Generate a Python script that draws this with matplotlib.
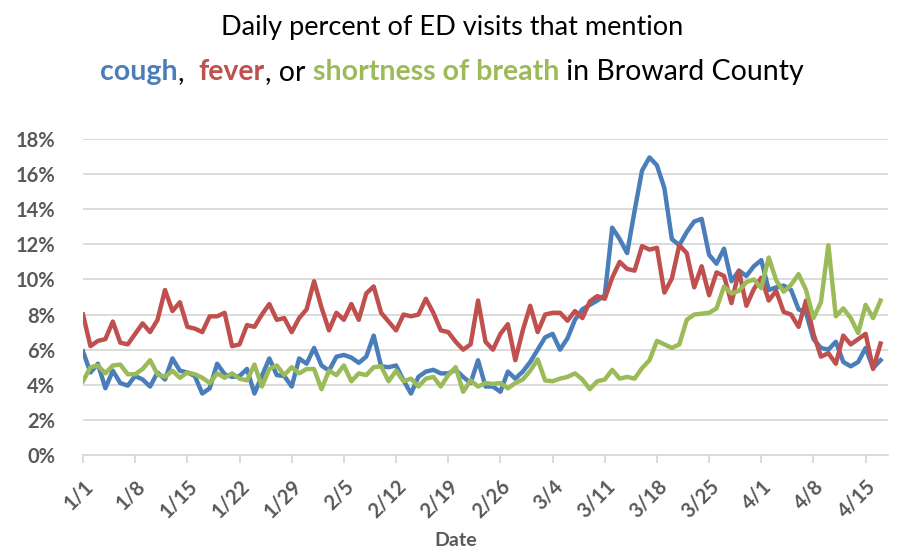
import numpy as np
import matplotlib
matplotlib.use("Agg")
import matplotlib.pyplot as plt
from matplotlib.ticker import FuncFormatter
from matplotlib.offsetbox import TextArea, HPacker, AnnotationBbox

# daily % of ED visits, 1/1 .. 4/17
cough = [5.9, 4.7, 5.2, 3.8, 4.8, 4.1, 3.95, 4.5, 4.3, 3.9, 4.7, 4.3, 5.5, 4.8, 4.7, 4.5,
         3.5, 3.8, 5.2, 4.6, 4.45, 4.5, 4.9, 3.5, 4.5, 5.5, 4.55, 4.5, 3.9, 5.5, 5.2, 6.1,
         5.1, 4.8, 5.6, 5.7, 5.55, 5.25, 5.6, 6.8, 5.05, 5.0, 5.1, 4.25, 3.5, 4.45, 4.75,
         4.85, 4.65, 4.65, 4.85, 4.45, 4.1, 5.4, 3.9, 3.9, 3.6, 4.75, 4.35, 4.75, 5.3, 6.0,
         6.7, 6.9, 6.0, 6.65, 7.7, 8.3, 8.55, 8.8, 9.1, 12.95, 12.3, 11.5, 13.9, 16.2, 16.95,
         16.5, 15.2, 12.3, 11.95, 12.7, 13.3, 13.45, 11.4, 10.9, 11.75, 9.9, 10.5, 10.2,
         10.75, 11.1, 9.4, 9.55, 9.65, 9.4, 8.3, 8.1, 6.6, 6.1, 6.0, 6.45, 5.3, 5.05, 5.3,
         6.1, 4.95, 5.4]
fever = [8.0, 6.2, 6.5, 6.6, 7.6, 6.4, 6.3, 6.9, 7.5, 7.0, 7.7, 9.4, 8.2, 8.7, 7.3, 7.2,
         7.0, 7.9, 7.9, 8.1, 6.2, 6.3, 7.4, 7.3, 8.0, 8.6, 7.7, 7.8, 7.0, 7.8, 8.3, 9.9,
         8.4, 7.1, 8.1, 7.7, 8.6, 7.7, 9.2, 9.6, 8.1, 7.6, 7.1, 8.0, 7.9, 8.0, 8.9, 8.1,
         7.1, 7.0, 6.45, 6.0, 6.3, 8.8, 6.45, 6.0, 6.9, 7.45, 5.4, 7.1, 8.5, 7.0, 8.0, 8.1,
         8.1, 7.65, 8.2, 7.8, 8.75, 9.05, 8.9, 10.1, 11.0, 10.6, 10.5, 11.9, 11.7, 11.8,
         9.25, 10.05, 11.95, 11.5, 9.55, 10.75, 9.1, 10.4, 10.2, 8.65, 10.5, 8.5, 9.45,
         10.1, 8.8, 9.35, 8.15, 8.0, 7.3, 8.8, 6.9, 5.6, 5.8, 5.2, 6.8, 6.3, 6.6, 6.9, 4.9,
         6.35]
breath = [4.2, 5.0, 5.1, 4.65, 5.1, 5.15, 4.6, 4.6, 4.9, 5.4, 4.6, 4.45, 4.8, 4.4, 4.7,
          4.6, 4.4, 4.1, 4.65, 4.4, 4.65, 4.35, 4.25, 5.15, 3.9, 4.9, 5.1, 4.55, 5.0, 4.65,
          4.9, 4.9, 3.75, 4.8, 4.55, 5.1, 4.2, 4.65, 4.55, 5.0, 5.05, 4.2, 4.8, 4.2, 4.35,
          3.9, 4.35, 4.45, 3.9, 4.55, 5.0, 3.6, 4.25, 3.9, 4.1, 4.05, 4.1, 3.8, 4.1, 4.3,
          4.8, 5.45, 4.25, 4.2, 4.35, 4.45, 4.65, 4.3, 3.75, 4.2, 4.3, 4.85, 4.35, 4.45,
          4.35, 4.95, 5.4, 6.5, 6.3, 6.1, 6.3, 7.7, 8.0, 8.05, 8.1, 8.35, 9.6, 9.2, 9.35,
          9.85, 10.0, 9.5, 11.25, 9.95, 9.3, 9.7, 10.3, 9.4, 7.8, 8.7, 11.95, 7.9, 8.35,
          7.8, 6.95, 8.55, 7.8, 8.8]

tick_labels = ["1/1", "1/8", "1/15", "1/22", "1/29", "2/5", "2/12", "2/19", "2/26",
               "3/4", "3/11", "3/18", "3/25", "4/1", "4/8", "4/15"]

BLUE = "#4a7ebb"
RED = "#c0504d"
GREEN = "#9bbb59"
GREY = "#595959"
FONT = ["Lato", "DejaVu Sans"]

plt.rcParams["font.family"] = FONT

fig = plt.figure(figsize=(9.04, 5.53), dpi=100)
ax = fig.add_axes([83 / 904, 1 - 455 / 553, (888 - 83) / 904, (455 - 139) / 553])

x = np.arange(len(cough))
ax.plot(x, cough, color=BLUE, lw=3.2, solid_joinstyle="round", zorder=3)
ax.plot(x, fever, color=RED, lw=3.2, solid_joinstyle="round", zorder=4)
ax.plot(x, breath, color=GREEN, lw=3.2, solid_joinstyle="round", zorder=5)

ax.set_xlim(0, 108)
ax.set_ylim(0, 18)
ax.set_yticks(np.arange(0, 19, 2))
ax.yaxis.set_major_formatter(FuncFormatter(lambda v, p: f"{v:.0f}%"))
ax.set_xticks(np.arange(0, 7 * len(tick_labels), 7))
ax.set_xticklabels(tick_labels, rotation=45, ha="right", rotation_mode="anchor")

ax.grid(axis="y", color="#d9d9d9", lw=1.3, zorder=0)
ax.set_axisbelow(True)
for s in ["top", "right", "left"]:
    ax.spines[s].set_visible(False)
ax.spines["bottom"].set_color("#d9d9d9")
ax.spines["bottom"].set_linewidth(1.3)
ax.tick_params(axis="x", direction="out", length=6, width=1.3, color="#d9d9d9",
               labelsize=14.5, labelcolor=GREY, pad=9)
ax.tick_params(axis="y", length=0, labelsize=14.5, labelcolor=GREY, pad=20)
for lab in ax.get_xticklabels() + ax.get_yticklabels():
    lab.set_fontweight("bold")

ax.set_xlabel("Date", fontsize=14, fontweight="bold", color=GREY, va="center")
ax.xaxis.set_label_coords(0.463, -0.272)

fig.text(0.5, 1 - 28 / 553, "Daily percent of ED visits that mention", ha="center",
         va="center", fontsize=19.5, color="black")

parts = [("cough", BLUE, "bold"), (",  ", "black", "normal"), ("fever", RED, "bold"),
         (", or ", "black", "normal"), ("shortness of breath", GREEN, "bold"),
         (" in Broward County", "black", "normal")]
areas = [TextArea(t, textprops=dict(color=c, fontweight=w, fontsize=20.5, family=FONT))
         for t, c, w in parts]
box = HPacker(children=areas, align="baseline", pad=0, sep=0)
ab = AnnotationBbox(box, (0.5, 1 - 72 / 553), xycoords="figure fraction",
                    frameon=False, box_alignment=(0.5, 0.5))
fig.add_artist(ab)

fig.savefig("out.png", dpi=100)
